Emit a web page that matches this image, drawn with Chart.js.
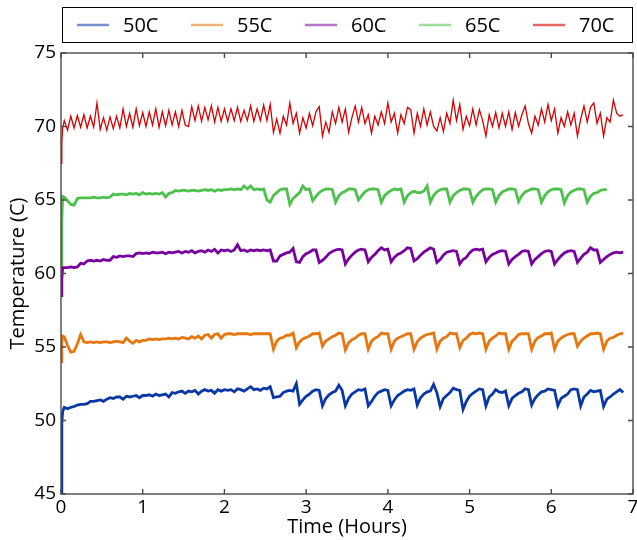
<!DOCTYPE html>
<html><head><meta charset="utf-8">
<script src="https://cdn.jsdelivr.net/npm/chart.js@4/dist/chart.umd.min.js"></script>
<style>html,body{margin:0;padding:0;background:#fff}#wrap{width:637px;height:540px}</style>
</head><body><div id="wrap"><canvas id="c" width="637" height="540"></canvas></div>
<script>
const hours = [
0,0.01,0.02,
0.04,0.08,0.12,0.16,0.2,0.24,0.28,0.32,0.36,0.4,0.44,0.48,0.52,0.56,0.6,0.64,0.68,0.72,0.76,0.8,0.84,0.88,0.92,0.96,1,
1.04,1.08,1.12,1.16,1.2,1.24,1.28,1.32,1.36,1.4,1.44,1.48,1.52,1.56,1.6,1.64,1.68,1.72,1.76,1.8,1.84,1.88,1.92,1.96,2,
2.04,2.08,2.12,2.16,2.2,2.24,2.28,2.32,2.36,2.4,2.44,2.48,2.52,2.56,2.6,2.64,2.68,2.72,2.76,2.8,2.84,2.88,2.92,2.96,3,
3.04,3.08,3.12,3.16,3.2,3.24,3.28,3.32,3.36,3.4,3.44,3.48,3.52,3.56,3.6,3.64,3.68,3.72,3.76,3.8,3.84,3.88,3.92,3.96,4,
4.04,4.08,4.12,4.16,4.2,4.24,4.28,4.32,4.36,4.4,4.44,4.48,4.52,4.56,4.6,4.64,4.68,4.72,4.76,4.8,4.84,4.88,4.92,4.96,5,
5.04,5.08,5.12,5.16,5.2,5.24,5.28,5.32,5.36,5.4,5.44,5.48,5.52,5.56,5.6,5.64,5.68,5.72,5.76,5.8,5.84,5.88,5.92,5.96,6,
6.04,6.08,6.12,6.16,6.2,6.24,6.28,6.32,6.36,6.4,6.44,6.48,6.52,6.56,6.6,6.64,6.68,6.72,6.76,6.8,6.84,6.88
];
const temp50C = [
45,49.8,50.6,
50.9,50.8,50.9,50.95,51.05,51.1,51.1,51.15,51.3,51.3,51.35,51.4,51.3,51.45,51.55,51.5,51.6,51.6,51.45,51.65,51.6,51.65,51.7,51.55,51.7,
51.7,51.75,51.65,51.8,51.7,51.75,51.8,51.6,51.9,51.85,51.95,52,51.85,52,51.95,52.05,51.8,52,52.1,52,52.05,51.85,52.1,52,52.1,
52.05,52.1,51.95,52.15,52.1,52,52.15,52.3,52.1,52.15,52.05,52.2,52.15,52.3,51.55,51.6,51.65,51.9,52,52.05,52,52.5,51.1,51.4,51.65,
51.8,52,52.1,52.05,51,51.5,51.75,51.9,52,52.4,52.05,51,51.5,51.8,51.95,52.1,52.05,52.15,51,51.3,51.65,51.9,52,52.1,52.05,
51,51.4,51.7,51.85,52,52.1,52.05,52.15,51.05,51.55,51.8,51.95,52,52.45,51.9,50.95,51.5,51.7,51.9,52.2,52.1,52.05,50.75,51.3,51.65,
51.85,52,52.15,52.1,51,51.6,51.8,52.1,51.95,51.9,52,51,51.5,51.7,51.85,51.95,52.15,52.1,51.05,51.5,51.75,51.95,52,52.15,52.1,
52.05,51,51.5,51.65,51.8,52.1,52.15,52.1,51,51.6,51.8,52.05,51.95,52,52.05,50.95,51.45,51.6,51.8,51.95,52.1,51.9
];
const temp55C = [
54,55.3,55.75,
55.7,55.1,54.65,54.7,55.2,55.85,55.35,55.3,55.35,55.3,55.35,55.3,55.35,55.35,55.3,55.35,55.4,55.35,55.3,55.6,55.4,55.25,55.45,55.35,55.45,
55.45,55.55,55.5,55.55,55.5,55.55,55.55,55.6,55.55,55.6,55.55,55.65,55.6,55.55,55.7,55.6,55.75,55.55,55.8,55.85,55.6,55.85,55.9,55.6,55.85,
55.9,55.9,55.85,55.9,55.9,55.9,55.9,55.85,55.9,55.9,55.9,55.9,55.9,55.9,54.85,55.4,55.6,55.65,55.8,55.8,55.95,54.95,55.35,55.55,55.65,
55.75,55.9,55.9,55.95,55.05,55.4,55.55,55.7,55.8,55.95,55.9,54.8,55.3,55.5,55.6,55.8,55.9,55.9,54.85,55.4,55.6,55.7,55.95,55.9,55.9,
54.85,55.4,55.6,55.7,55.8,55.9,55.9,54.85,55.35,55.6,55.75,55.85,55.9,55.95,54.85,55.4,55.6,55.7,55.95,55.9,55.9,54.95,55.45,55.6,55.85,
55.95,55.9,55.95,55.9,54.85,55.4,55.6,55.75,55.95,55.9,55.9,54.85,55.4,55.6,55.85,55.9,55.9,55.9,54.85,55.4,55.65,55.75,55.9,55.9,55.95,
54.85,55.4,55.6,55.75,55.85,55.9,55.9,55.05,55.4,55.6,55.75,55.9,55.9,55.95,55.9,54.85,55.4,55.6,55.65,55.8,55.9,55.95
];
const temp60C = [
58.5,59.6,60.4,
60.4,60.4,60.45,60.4,60.45,60.7,60.65,60.85,60.9,60.85,60.9,60.85,60.95,60.9,60.9,61.15,61.1,61.2,61.15,61.2,61.2,61.15,61.35,61.4,61.35,
61.4,61.35,61.45,61.4,61.4,61.45,61.35,61.45,61.4,61.45,61.5,61.4,61.5,61.45,61.55,61.4,61.5,61.55,61.45,61.6,61.5,61.65,61.4,61.6,61.55,
61.6,61.5,61.6,61.95,61.55,61.6,61.5,61.6,61.55,61.6,61.55,61.6,61.55,61.6,60.85,60.85,61.2,61.3,61.4,61.45,61.7,60.8,60.75,61.15,61.35,
61.45,61.6,61.6,60.75,60.9,61.1,61.35,61.5,61.6,61.65,61.6,60.65,61,61.25,61.45,61.6,61.65,61.6,60.8,61.1,61.3,61.55,61.75,61.6,61.65,
60.8,61.1,61.3,61.4,61.55,61.75,61.7,60.85,61,61.25,61.45,61.6,61.75,61.65,60.75,60.95,61.25,61.45,61.5,61.55,61.5,60.65,60.95,61.1,61.4,
61.6,61.65,61.6,61.65,60.8,61.1,61.3,61.4,61.5,61.55,61.5,60.65,60.95,61.15,61.3,61.5,61.55,61.5,60.65,60.95,61.15,61.35,61.5,61.55,61.5,
60.65,60.95,61.2,61.4,61.5,61.55,61.5,60.75,61.05,61.3,61.45,61.75,61.6,61.6,60.75,60.95,61.15,61.3,61.4,61.45,61.4,61.45
];
const temp65C = [
60.5,63.5,65.25,
65.2,64.95,64.7,64.65,65.1,65.15,65.15,65.15,65.15,65.2,65.15,65.15,65.2,65.15,65.2,65.4,65.35,65.4,65.4,65.35,65.45,65.4,65.45,65.35,65.5,
65.4,65.45,65.4,65.45,65.4,65.5,65.2,65.45,65.5,65.65,65.6,65.65,65.65,65.6,65.65,65.65,65.6,65.65,65.7,65.65,65.7,65.6,65.7,65.65,65.7,
65.7,65.75,65.7,65.75,65.7,65.95,65.75,65.95,65.7,65.75,65.7,65.75,65,64.85,65.3,65.5,65.7,65.75,65.75,64.7,65.1,65.3,65.5,65.95,65.7,
65.75,64.95,65.25,65.5,65.65,65.75,65.75,65.7,64.85,65.3,65.5,65.6,65.75,65.75,65.7,65,65.3,65.55,65.7,65.75,65.75,65.7,64.85,65.3,65.5,
65.65,65.75,65.7,65.75,64.85,65.3,65.5,65.6,65.5,65.5,65.6,65.95,64.85,65.3,65.55,65.7,65.75,65.75,64.85,65.3,65.5,65.65,65.75,65.75,65.7,
64.85,65.25,65.5,65.7,65.75,65.75,65.7,64.85,65.3,65.55,65.65,65.75,65.75,65.7,64.9,65.3,65.55,65.65,65.75,65.75,65.7,64.85,65.3,65.55,65.7,
65.75,65.75,65.7,64.8,65.3,65.55,65.65,65.75,65.75,65.7,64.85,65.25,65.45,65.5,65.65,65.7,65.7
];
const temp70C = [
67.5,68.9,69.9,
70.4,69.75,70.7,69.9,70.75,69.95,70.8,69.9,70.7,69.95,71.6,69.8,70.6,69.75,70.65,69.85,70.7,69.9,71.2,70,70.9,69.95,71.2,70.05,70.95,
70,71,70.1,71.2,69.95,71,70.05,71.1,70.1,71,70,71.1,70.1,70,71.35,70.4,71.4,70.35,71.3,70.45,71.4,70.3,71.3,70.35,71.2,
70.35,71.2,70.4,71.3,70.35,71.1,70.4,71.4,70.35,71.2,70.4,71.45,70.4,71.5,69.6,70.5,69.55,70.7,70.1,71.6,70.2,70.9,69.55,70.6,69.9,
70.9,70.05,71,71.35,69.35,70.3,69.6,71,70.2,71.3,70.3,71.2,69.6,70.6,71.4,70.3,71.3,70.2,70.8,69.55,70.7,70.1,71,70.2,71.6,
70.3,70.9,69.55,70.8,70.2,71.3,71.15,69.55,70.9,70,71.2,70.1,71,70,69.7,70.6,69.65,70.9,70.2,71.8,70.4,71.5,69.8,70.7,70.05,
71.2,70.1,71.15,70.4,69.35,70.8,70,70.95,69.9,70.9,70,71,69.8,70.95,70,70.8,71.4,70.2,69.55,70.7,70.1,71.2,70.3,71.5,70.4,
71.2,69.55,70.6,70,71,70.1,70.9,69.35,70.5,71.4,70.3,71.3,71.6,70.2,70.9,69.35,70.6,70.3,71.8,70.9,70.7,70.8
];
const seriesNames = ['50C','55C','60C','65C','70C'];
const seriesValues = [temp50C, temp55C, temp60C, temp65C, temp70C];
const seriesColors = ['#0a37a6','#e8760e','#78009e','#4cc24c','#d60000'];
const legendColors = ['rgba(10,55,166,0.55)','rgba(232,118,14,0.55)','rgba(120,0,158,0.55)','rgba(76,194,76,0.55)','rgba(214,0,0,0.6)'];
const xTicks = [0,1,2,3,4,5,6,7];
const yTicks = [45,50,55,60,65,70,75];

const FONT = "'Open Sans', 'DejaVu Sans', sans-serif";

const datasets = seriesNames.map((name, k) => ({
  label: name,
  data: seriesValues[k].map((v, i) => ({x: hours[i], y: v})),
  borderColor: seriesColors[k],
  borderWidth: k === 4 ? 1.3 : 2.8,
  pointRadius: 0,
  tension: 0,
  fill: false
}));

const framePlugin = {
  id: 'frame',
  afterDraw(chart) {
    const {ctx, chartArea: a, scales: {x, y}} = chart;
    ctx.save();
    ctx.strokeStyle = '#4a4a4a';
    ctx.lineWidth = 1.4;
    ctx.strokeRect(a.left, a.top, a.right - a.left, a.bottom - a.top);
    ctx.beginPath();
    xTicks.forEach(v => {
      const px = x.getPixelForValue(v);
      ctx.moveTo(px, a.bottom); ctx.lineTo(px, a.bottom - 5);
      ctx.moveTo(px, a.top); ctx.lineTo(px, a.top + 5);
    });
    yTicks.forEach(v => {
      const py = y.getPixelForValue(v);
      ctx.moveTo(a.left, py); ctx.lineTo(a.left + 5, py);
      ctx.moveTo(a.right, py); ctx.lineTo(a.right - 5, py);
    });
    ctx.stroke();
    // legend box
    ctx.strokeStyle = '#000';
    ctx.lineWidth = 1;
    ctx.strokeRect(a.left + 1.5, 7.5, a.right - a.left - 2, 35);
    ctx.font = '20px ' + FONT;
    ctx.textBaseline = 'middle';
    ctx.textAlign = 'left';
    ctx.fillStyle = '#000';
    seriesNames.forEach((name, k) => {
      const lx = 77 + k * 114;
      ctx.strokeStyle = legendColors[k];
      ctx.lineWidth = 2.5;
      ctx.beginPath();
      ctx.moveTo(lx, 25); ctx.lineTo(lx + 32, 25);
      ctx.stroke();
      ctx.fillText(name, lx + 46, 26);
    });
    ctx.restore();
  }
};

new Chart(document.getElementById('c'), {
  type: 'line',
  data: {datasets},
  plugins: [framePlugin],
  options: {
    responsive: false,
    animation: false,
    devicePixelRatio: 1,
    layout: {padding: {top: 53, right: 4, bottom: 0, left: 0}},
    plugins: {legend: {display: false}, tooltip: {enabled: false}},
    scales: {
      x: {
        type: 'linear', min: 0, max: 7,
        grid: {display: false, drawTicks: false},
        border: {display: false},
        afterBuildTicks(s) { s.ticks = xTicks.map(v => ({value: v})); },
        ticks: {padding: 2, color: '#000', font: {family: FONT, size: 19}, maxRotation: 0, autoSkip: false},
        title: {display: true, text: 'Time (Hours)', color: '#000', font: {family: FONT, size: 20}, padding: {top: 0, bottom: 1}},
        afterFit(s) { s.height = 46; s.paddingLeft = 0; s.paddingRight = 0; }
      },
      y: {
        type: 'linear', min: 45, max: 75,
        grid: {display: false, drawTicks: false},
        border: {display: false},
        afterBuildTicks(s) { s.ticks = yTicks.map(v => ({value: v})); },
        ticks: {padding: 5, color: '#000', font: {family: FONT, size: 19}},
        title: {display: true, text: 'Temperature (C)', color: '#000', font: {family: FONT, size: 20}, padding: {top: 6, bottom: 0}},
        afterFit(s) { s.width = 61; s.paddingTop = 0; s.paddingBottom = 0; }
      }
    }
  }
});
</script>
</body></html>
